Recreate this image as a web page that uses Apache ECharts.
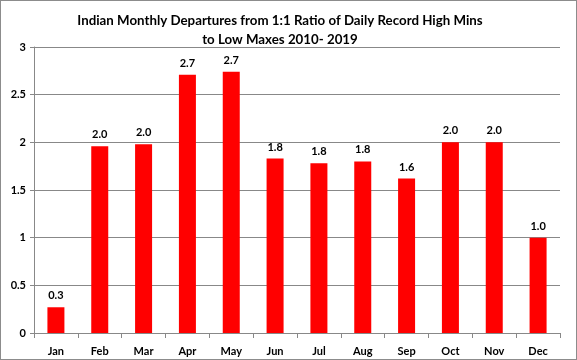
<!DOCTYPE html>
<html>
<head>
<meta charset="utf-8">
<script src="https://cdn.jsdelivr.net/npm/echarts@6/dist/echarts.min.js"></script>
<style>
html,body{margin:0;padding:0;background:#fff;}
#c{width:575px;height:358px;border:1px solid #8c8c8c;}
</style>
</head>
<body>
<div id="c"></div>
<script>
const months = ['Jan','Feb','Mar','Apr','May','Jun','Jul','Aug','Sep','Oct','Nov','Dec'];
const departures = [0.27, 1.96, 1.98, 2.71, 2.74, 1.83, 1.78, 1.80, 1.62, 2.00, 2.00, 1.00];
const titleText = 'Indian Monthly Departures from 1:1 Ratio of Daily Record High Mins\nto Low Maxes 2010- 2019';
const yTicks = {min: 0, max: 3, interval: 0.5};

const chart = echarts.init(document.getElementById('c'));
chart.setOption({
  animation: false,
  title: {
    text: titleText,
    left: 274, top: 5,
    textAlign: 'center',
    textStyle: {fontFamily: 'Lato', fontWeight: 'bold', fontSize: 13.3, lineHeight: 19, color: '#000'}
  },
  grid: {left: 33, right: 16, top: 46, bottom: 26},
  xAxis: {
    type: 'category',
    data: months,
    axisLine: {lineStyle: {color: '#888', width: 1}},
    axisTick: {show: true, length: 5, lineStyle: {color: '#888'}},
    axisLabel: {fontFamily: 'Lato', fontWeight: 'bold', fontSize: 11, color: '#000', margin: 13}
  },
  yAxis: {
    type: 'value',
    min: yTicks.min, max: yTicks.max, interval: yTicks.interval,
    axisLine: {show: true, lineStyle: {color: '#888'}},
    axisTick: {show: true, length: 4, lineStyle: {color: '#888'}},
    splitLine: {lineStyle: {color: '#888', width: 1}},
    axisLabel: {fontFamily: 'Lato', fontWeight: 'bold', fontSize: 11, color: '#000', margin: 8}
  },
  series: [{
    type: 'bar',
    data: departures,
    barWidth: 17,
    itemStyle: {color: '#ff0000'},
    label: {
      show: true, position: 'top', distance: 6,
      formatter: p => p.value.toFixed(1),
      fontFamily: 'Lato', fontWeight: 'bold', fontSize: 11, color: '#000'
    }
  }]
});
</script>
</body>
</html>
